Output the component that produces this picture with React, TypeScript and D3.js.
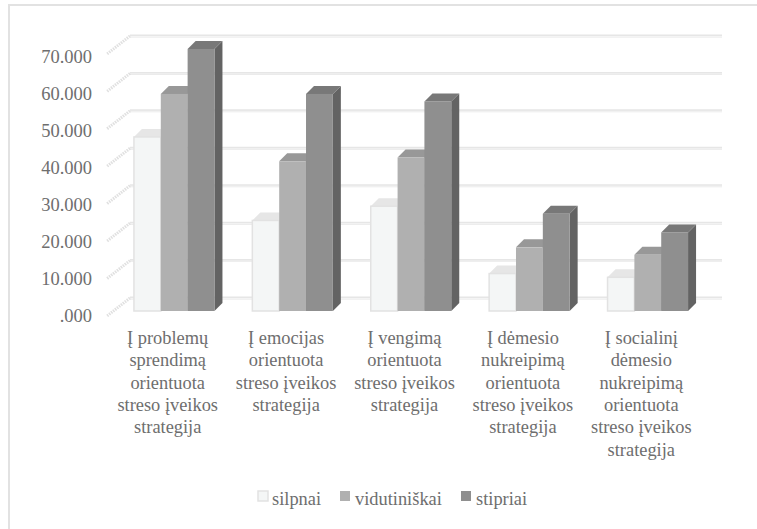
import * as d3 from "d3";
import { useEffect, useRef } from "react";

const categories = [
  ["Į problemų", "sprendimą", "orientuota", "streso įveikos", "strategija"],
  ["Į emocijas", "orientuota", "streso įveikos", "strategija"],
  ["Į vengimą", "orientuota", "streso įveikos", "strategija"],
  ["Į dėmesio", "nukreipimą", "orientuota", "streso įveikos", "strategija"],
  ["Į socialinį", "dėmesio", "nukreipimą", "orientuota", "streso įveikos", "strategija"],
];
const seriesNames = ["silpnai", "vidutiniškai", "stipriai"];
const silpnai = [46.5, 24.2, 28, 10, 9];
const vidutiniskai = [58, 40, 41, 17, 15];
const stipriai = [70, 58, 56, 26, 21];
const yTicks = [0, 10, 20, 30, 40, 50, 60, 70];

const serieses = [silpnai, vidutiniskai, stipriai];
const frontColors = ["#f4f6f6", "#b0b0b0", "#8f8f8f"];
const topColors = ["#e6e6e6", "#989898", "#787878"];
const sideColors = ["#d8d8d8", "#8a8a8a", "#636363"];
const legendX = [258, 340, 461];
const textColor = "#6e6e6e";

export default function App() {
  const ref = useRef<SVGSVGElement | null>(null);

  useEffect(() => {
    const svg = d3.select(ref.current);
    svg.selectAll("*").remove();
    svg.style("font-family", "'Liberation Serif'");

    // frame only shows on the top and left edges
    svg
      .append("path")
      .attr("d", "M9,529V5H757")
      .attr("fill", "none")
      .attr("stroke", "#e2e2e2")
      .attr("stroke-width", 2);

    const depth = 8;
    const wallX = 23;
    const wallY = 18;

    // y is the plane of the bar fronts, walls are shifted back from it
    const y = d3.scaleLinear().domain([0, 70]).range([311, 49]);
    const groupX = d3
      .scaleBand<number>()
      .domain(categories.map((_, i) => i))
      .range([115, 707])
      .paddingInner(0.32)
      .paddingOuter(0.16);
    const barX = d3
      .scaleBand<number>()
      .domain([0, 1, 2])
      .range([0, groupX.bandwidth()]);

    const wallTop = (v: number) => y(v) - 13;
    const grid = svg.append("g");
    yTicks.forEach((t) => {
      const gy = wallTop(t);
      grid
        .append("line")
        .attr("x1", 130)
        .attr("x2", 722)
        .attr("y1", gy)
        .attr("y2", gy)
        .attr("stroke", "#e6e6e6")
        .attr("stroke-width", 3);
      grid
        .append("line")
        .attr("x1", 130)
        .attr("x2", 722)
        .attr("y1", gy + 0.5)
        .attr("y2", gy + 0.5)
        .attr("stroke", "#f4f4f4")
        .attr("stroke-width", 1);
      grid
        .append("line")
        .attr("x1", 130)
        .attr("x2", 130 - wallX)
        .attr("y1", gy)
        .attr("y2", gy + wallY)
        .attr("stroke", "#e0e0e0")
        .attr("stroke-width", 3)
        .attr("stroke-dasharray", "1.5 1");
    });

    const yAxis = d3
      .axisLeft(d3.scaleLinear().domain([0, 70]).range([316, 57]))
      .tickValues(yTicks)
      .tickSize(0)
      .tickPadding(0)
      .tickFormat((d) => (+d === 0 ? ".000" : `${d}.000`));
    const axisG = svg.append("g").attr("transform", "translate(92,0)").call(yAxis);
    axisG.select(".domain").remove();
    axisG
      .selectAll("text")
      .attr("font-size", 18.5)
      .attr("font-family", "'Liberation Serif'")
      .attr("fill", textColor);

    categories.forEach((lines, i) => {
      const g = svg.append("g");
      const gx = groupX(i) || 0;
      serieses.forEach((series, s) => {
        const x0 = gx + (barX(s) || 0);
        const x1 = x0 + barX.bandwidth();
        const top = y(series[i]);
        const base = y(0);
        g.append("polygon")
          .attr("points", [[x1, top], [x1 + depth, top - depth], [x1 + depth, base - depth], [x1, base]].join(" "))
          .attr("fill", sideColors[s]);
        g.append("polygon")
          .attr("points", [[x0, top], [x0 + depth, top - depth], [x1 + depth, top - depth], [x1, top]].join(" "))
          .attr("fill", topColors[s]);
        g.append("rect")
          .attr("x", x0)
          .attr("y", top)
          .attr("width", x1 - x0)
          .attr("height", base - top)
          .attr("fill", frontColors[s])
          .attr("stroke", s === 0 ? "#e2e2e2" : "none")
          .attr("stroke-width", s === 0 ? 1.5 : 0);
      });

      const label = svg
        .append("text")
        .attr("text-anchor", "middle")
        .attr("font-size", 18.4)
        .attr("fill", textColor);
      lines.forEach((line, l) => {
        label
          .append("tspan")
          .attr("x", gx + groupX.bandwidth() / 2 - 6.5)
          .attr("y", 344 + l * 22.3)
          .text(line);
      });
    });

    seriesNames.forEach((name, s) => {
      svg
        .append("rect")
        .attr("x", legendX[s])
        .attr("y", 491)
        .attr("width", 10)
        .attr("height", 10)
        .attr("fill", frontColors[s])
        .attr("stroke", s === 0 ? "#e2e2e2" : "none")
        .attr("stroke-width", s === 0 ? 1.5 : 0);
      svg
        .append("text")
        .attr("x", legendX[s] + (s === 0 ? 14 : 15))
        .attr("y", 505)
        .attr("font-size", 18.4)
        .attr("fill", textColor)
        .text(name);
    });
  }, []);

  return (
    <svg
      ref={ref}
      width={757}
      height={529}
      style={{ position: "absolute", left: 0, top: 0 }}
    />
  );
}
